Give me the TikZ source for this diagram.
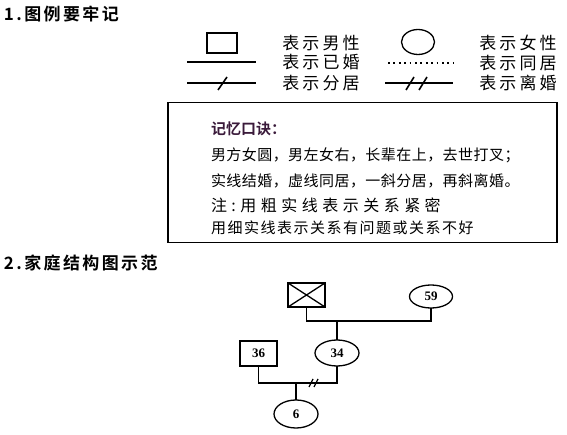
\documentclass[tikz,border=0pt]{standalone}
\usepackage{fontspec}
\usepackage{tikz}
\usetikzlibrary{shapes.geometric}
\setmainfont{Liberation Serif}
\newfontfamily\cjk[BoldFont={Noto Sans CJK SC Bold}]{Noto Sans CJK SC}
\definecolor{tipink}{HTML}{3A1A3A}

\begin{document}
\begin{tikzpicture}[x=1pt, y=-1pt, line width=1.3pt]

\tikzstyle{every node} = [inner sep=0pt, outer sep=0pt]
\tikzstyle{head} = [anchor=west, font=\cjk\bfseries\fontsize{17}{17}\selectfont\addfontfeature{LetterSpace=14}]
\tikzstyle{legend} = [font=\cjk\fontsize{17}{17}\selectfont\addfontfeature{LetterSpace=18}]
\tikzstyle{tip} = [anchor=west, font=\cjk\fontsize{15}{15}\selectfont\addfontfeature{LetterSpace=3}]
\tikzstyle{male} = [rectangle, draw]
\tikzstyle{female} = [ellipse, draw]
\tikzstyle{age} = [font=\bfseries\fontsize{13}{13}\selectfont]

\useasboundingbox (0,0) rectangle (567,435);

\node[head] (h1) at (4,14) {1.图例要牢记};

% legend
\node[male, minimum width=30pt, minimum height=20pt] (lm) at (222,43) {};
\node[legend] (tm) at (321,43) {表示男性};
\node[female, minimum width=33pt, minimum height=25pt] (lf) at (418,42) {};
\node[legend] (tf) at (518,43) {表示女性};

\coordinate (ma) at (187,62);
\coordinate (mb) at (256,62);
\node[legend] (tma) at (321,62) {表示已婚};
\coordinate (ca) at (388,63);
\coordinate (cb) at (453,63);
\node[legend] (tc) at (518,63) {表示同居};

\coordinate (sa) at (187,83);
\coordinate (sb) at (256,83);
\node[legend] (ts) at (321,83) {表示分居};
\coordinate (da) at (385,83);
\coordinate (db) at (453,83);
\node[legend] (td) at (518,83) {表示离婚};

\draw[-, line width=1.6pt] (ma) -- (mb);
\draw[line width=1.8pt, dash pattern=on 1.8pt off 3.6pt] (ca) -- (cb);
\draw[-, line width=1.6pt] (sa) -- (sb);
\draw[-, line width=1.6pt] (218,90) -- (227,77);
\draw[-, line width=1.6pt] (da) -- (db);
\draw[-, line width=1.6pt] (406,90) -- (414,77);
\draw[-, line width=1.6pt] (419,90) -- (427,77);

% memo box
\node[draw, minimum width=389pt, minimum height=140pt] (box) at (362.5,172.5) {};
\node[tip, font=\cjk\bfseries\fontsize{15}{15}\selectfont, text=tipink] (k1) at (211,129) {记忆口诀：};
\node[tip] (k2) at (211,155) {男方女圆，男左女右，长辈在上，去世打叉；};
\node[tip] (k3) at (211,181) {实线结婚，虚线同居，一斜分居，再斜离婚。};
\node[tip, font=\cjk\fontsize{16}{16}\selectfont\addfontfeature{LetterSpace=28}] (k4) at (211,205) {注:用粗实线表示关系紧密};
\node[tip, font=\cjk\fontsize{15}{15}\selectfont\addfontfeature{LetterSpace=10}] (k5) at (211,228) {用细实线表示关系有问题或关系不好};

\node[head] (h2) at (4,263) {2.家庭结构图示范};

% family
\node[male, minimum width=37pt, minimum height=24pt] (gf) at (306.5,295) {};
\node[female, minimum width=43pt, minimum height=23pt, age] (gm) at (431,296.5) {59};
\node[female, minimum width=44pt, minimum height=26pt, age] (mom) at (337,353) {34};
\node[male, minimum width=37pt, minimum height=25pt, age] (dad) at (258.5,353.5) {36};
\node[female, minimum width=44pt, minimum height=28pt, age] (kid) at (296,414) {6};

\coordinate (p1) at (337,321);
\coordinate (p2) at (296,383);

\draw[-] (gf.north west) -- (gf.south east);
\draw[-] (gf.north east) -- (gf.south west);
\draw[-] (gf.south) |- (p1) -| (gm.south);
\draw[-] (p1) -- (mom.north);
\draw[-] (dad.south) |- (p2) -| (mom.south);
\draw[-] (p2) -- (kid.north);
\draw[-] (309,387) -- (313,379);
\draw[-] (314,387) -- (318,379);

\end{tikzpicture}
\end{document}
